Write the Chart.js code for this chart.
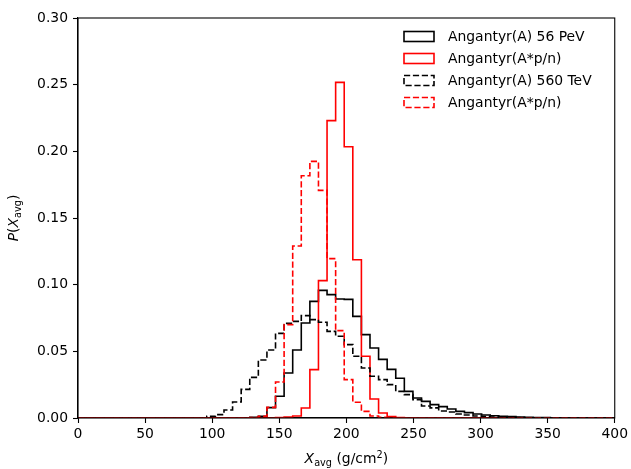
<!DOCTYPE html>
<html><head><meta charset="utf-8">
<script src="https://cdn.jsdelivr.net/npm/chart.js@4.4.0/dist/chart.umd.min.js"></script>
<style>html,body{margin:0;padding:0;background:#fff;}#wrap{width:631px;height:469px;}</style>
</head><body><div id="wrap"><canvas id="c" width="631" height="469"></canvas></div>
<script>
// bin width of the histograms (x units); bin k spans [k*binWidth, (k+1)*binWidth]
const binWidth = 6.4;
const seriesLabels = ["Angantyr(A) 56 PeV", "Angantyr(A*p/n)", "Angantyr(A) 560 TeV", "Angantyr(A*p/n)"];
// bins k = 0..62
const pev56 = [0,0,0,0,0,0,0,0,0,0, 0,0,0,0,0,0,0,0,0,0.0002,
  0.0005,0.0013,0.0078,0.0163,0.0338,0.0510,0.0713,0.0875,0.0957,0.0925,
  0.0893,0.0890,0.0762,0.0625,0.0525,0.0440,0.0365,0.0298,0.0200,0.0150,
  0.0125,0.0100,0.0085,0.0068,0.0050,0.0040,0.0030,0.0023,0.0017,0.0013,
  0.0010,0.0008,0.0006,0.0004,0.0003,0.0002,0.0002,0.0001,0.0001,0,
  0,0,0];
const pev56pn = [0,0,0,0,0,0,0,0,0,0, 0,0,0,0,0,0,0,0,0,0,
  0,0,0,0.0003,0.0008,0.0015,0.0075,0.0363,0.1030,0.2230,
  0.2517,0.2034,0.1187,0.0463,0.0143,0.0038,0.0010,0.0003,0,0,
  0,0,0,0,0,0,0,0,0,0, 0,0,0,0,0,0,0,0,0,0, 0,0,0];
const tev560 = [0,0,0,0,0,0,0,0,0,0, 0,0,0,0,0,0.0012,0.0025,0.0060,0.0120,0.0215,
  0.0305,0.0435,0.0510,0.0635,0.0710,0.0725,0.0768,0.0738,0.0718,0.0650,
  0.0613,0.0550,0.0463,0.0375,0.0313,0.0288,0.0250,0.0200,0.0175,0.0138,
  0.0090,0.0076,0.0052,0.0045,0.0030,0.0022,0.0015,0.0011,0.0008,0.0006,
  0.0004,0.0003,0.0002,0.0001,0.0001,0,0,0,0,0,
  0,0,0];
const tev560pn = [0,0,0,0,0,0,0,0,0,0, 0,0,0,0,0,0,0,0,0,0,
  0.0003,0.0013,0.0080,0.0270,0.0700,0.1290,0.1817,0.1925,0.1707,0.1195,
  0.0655,0.0288,0.0118,0.0050,0.0015,0.0005,0.0002,0,0,0,
  0,0,0,0,0,0,0,0,0,0, 0,0,0,0,0,0,0,0,0,0, 0,0,0];
const xTicks = [0,50,100,150,200,250,300,350,400];
const yTicks = [0,0.05,0.10,0.15,0.20,0.25,0.30];

const FONT = "'DejaVu Sans'";
const FS = 13.9;

function stepPoints(vals){
  const pts = vals.map((v,k)=>({x:k*binWidth, y:v}));
  pts.push({x:vals.length*binWidth, y:0});
  return pts;
}
function ds(label, vals, color, dashed, order){
  return {label, data: stepPoints(vals), borderColor: color, backgroundColor: 'rgba(0,0,0,0)',
    borderWidth: 1.6, borderDash: dashed ? [6.2,2.7] : [], stepped: 'before', pointRadius: 0,
    fill: false, order, borderCapStyle:'butt', borderJoinStyle:'miter'};
}

function drawMath(ctx, parts, cx, cy, rot){
  ctx.save(); ctx.translate(cx, cy); if (rot) ctx.rotate(rot);
  let total = 0;
  parts.forEach(p=>{ ctx.font = p.f; p.w = ctx.measureText(p.t).width; total += p.w; });
  let x = -total/2; ctx.textBaseline = 'alphabetic'; ctx.fillStyle = '#000'; ctx.textAlign='left';
  parts.forEach(p=>{ ctx.font = p.f; ctx.fillText(p.t, x, p.dy||0); x += p.w; });
  ctx.restore();
}

const decor = {
  id: 'decor',
  afterDatasetsDraw(chart){
    const ctx = chart.ctx, a = chart.chartArea;
    ctx.save(); ctx.strokeStyle = '#000'; ctx.lineWidth = 1.1; ctx.setLineDash([]);
    ctx.strokeRect(a.left, a.top, a.right-a.left, a.bottom-a.top);
    ctx.restore();
  },
  afterDraw(chart){
    const ctx = chart.ctx;
    const norm = FS+'px '+FONT, ital = 'italic '+FS+'px '+FONT, sub = (FS*0.7)+'px '+FONT;
    // x title
    drawMath(ctx, [{t:'X',f:ital},{t:'avg',f:sub,dy:3},{t:' (g/cm',f:norm},{t:'2',f:sub,dy:-5.5},{t:')',f:norm}],
      (chart.chartArea.left+chart.chartArea.right)/2, 463, 0);
    // y title
    drawMath(ctx, [{t:'P',f:ital},{t:'(',f:norm},{t:'X',f:ital},{t:'avg',f:sub,dy:3},{t:')',f:norm}],
      18, (chart.chartArea.top+chart.chartArea.bottom)/2, -Math.PI/2);
    // legend
    chart.data.datasets.forEach((d,i)=>{
      const yc = 36.5 + 22*i;
      ctx.save();
      ctx.strokeStyle = d.borderColor; ctx.lineWidth = d.borderWidth; ctx.setLineDash(d.borderDash);
      ctx.strokeRect(404, yc-5, 30, 10);
      ctx.setLineDash([]); ctx.fillStyle = '#000'; ctx.font = norm; ctx.textBaseline = 'middle'; ctx.textAlign='left';
      ctx.fillText(d.label, 448, yc+0.5);
      ctx.restore();
    });
  }
};

new Chart(document.getElementById('c'), {
  type: 'line',
  data: { datasets: [
    ds(seriesLabels[0], pev56, '#000000', false, 4),
    ds(seriesLabels[1], pev56pn, '#ff0000', false, 3),
    ds(seriesLabels[2], tev560, '#000000', true, 2),
    ds(seriesLabels[3], tev560pn, '#ff0000', true, 1)
  ]},
  options: {
    responsive: false, animation: false, devicePixelRatio: 1,
    layout: { padding: { left: 0, top: 18, right: 16, bottom: 0 } },
    plugins: { legend: { display: false }, tooltip: { enabled: false } },
    scales: {
      x: { type: 'linear', min: 0, max: 400,
        afterBuildTicks: s => { s.ticks = xTicks.map(v=>({value:v})); },
        afterFit: s => { s.height = 51; },
        grid: { drawOnChartArea: false, drawTicks: true, tickLength: 5, tickWidth: 1.1, tickColor: '#000' },
        border: { display: true, color: '#000', width: 1.1 },
        ticks: { color: '#000', font: { family: FONT, size: FS }, padding: 3, maxRotation: 0, callback: v => String(v) }
      },
      y: { type: 'linear', min: 0, max: 0.30,
        afterBuildTicks: s => { s.ticks = yTicks.map(v=>({value:v})); },
        afterFit: s => { s.width = 78; },
        grid: { drawOnChartArea: false, drawTicks: true, tickLength: 5, tickWidth: 1.1, tickColor: '#000' },
        border: { display: true, color: '#000', width: 1.1 },
        ticks: { color: '#000', font: { family: FONT, size: FS }, padding: 5, callback: v => v.toFixed(2) }
      }
    }
  },
  plugins: [decor]
});
</script></body></html>
